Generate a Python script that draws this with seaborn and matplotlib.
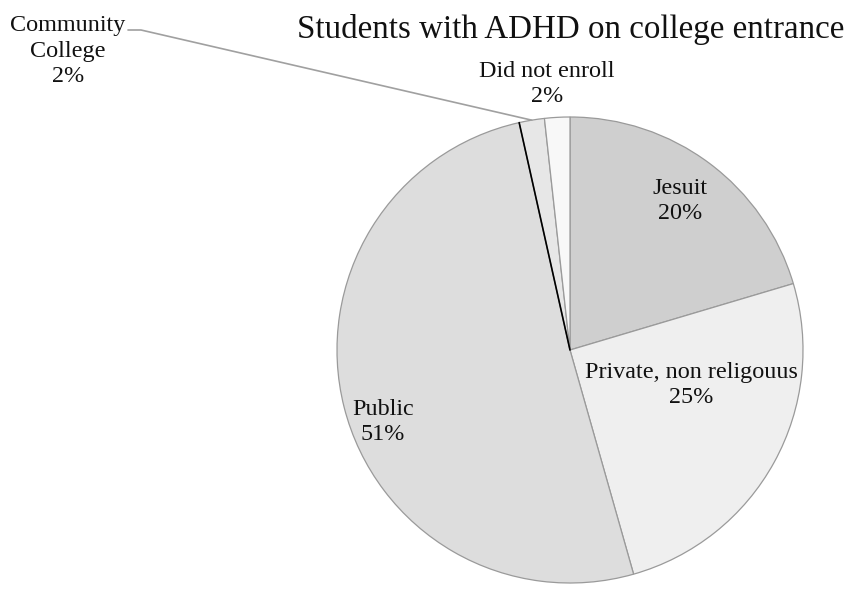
import numpy as np
import matplotlib
matplotlib.use("Agg")
import matplotlib.pyplot as plt
import seaborn as sns

sns.set_theme(style="white")
plt.rcParams['font.family'] = ['Liberation Serif', 'DejaVu Serif']

categories = ["Jesuit", "Private, non religouus", "Public", "Community College", "Did not enroll"]
values = [20.4, 25.2, 50.9, 1.75, 1.75]
pct_labels = ["20%", "25%", "51%", "2%", "2%"]
colors = ["#cfcfcf", "#efefef", "#dddddd", "#e7e7e7", "#f8f8f8"]

fig = plt.figure(figsize=(8.51, 5.90), dpi=100)
cx, cy, r = 570, 350, 233
W, H = 851, 590
ax = fig.add_axes([(cx - r) / W, (H - cy - r) / H, 2 * r / W, 2 * r / H])

wedges, _ = ax.pie(values, colors=colors, startangle=90, counterclock=False,
                   radius=1.0,
                   wedgeprops=dict(edgecolor="#9a9a9a", linewidth=0.9))
ax.set_xlim(-1, 1)
ax.set_ylim(-1, 1)
ax.set_aspect('equal')
ax.axis('off')

# black boundary between Public and Community College
ang = np.deg2rad(wedges[3].theta2)
ax.plot([0, np.cos(ang)], [0, np.sin(ang)], color="black", lw=1.2, zorder=5)

fs = 17.4
ls = 1.28
def pos(px, py):
    return ((px - cx) / r, (cy - py) / r)

label_px = {
    0: (680, 201),
    1: (691, 385),
    2: (383, 422),
    4: (547, 84),
}
for i, (px, py) in label_px.items():
    x, y = pos(px, py)
    ax.text(x, y, f"{categories[i]}\n{pct_labels[i]}", ha="center", va="center",
            fontsize=fs, linespacing=ls, clip_on=False, color="#111111")

# Community College label with leader line
x, y = pos(68, 51)
ax.text(x, y, "Community\nCollege\n" + pct_labels[3], ha="center", va="center",
        fontsize=fs, linespacing=ls, clip_on=False, color="#111111")
mid = np.deg2rad((wedges[3].theta1 + wedges[3].theta2) / 2)
ex, ey = np.cos(mid), np.sin(mid)
p1 = pos(128, 30)
p2 = pos(141, 30)
ax.plot([p1[0], p2[0], ex], [p1[1], p2[1], ey], color="#a0a0a0", lw=1.2,
        clip_on=False, zorder=6)

fig.text(571 / W, 1 - 38 / H, "Students with ADHD on college entrance",
         ha="center", va="baseline", fontsize=23.8, color="#111111")

fig.savefig("out.png", dpi=100, facecolor="white")
